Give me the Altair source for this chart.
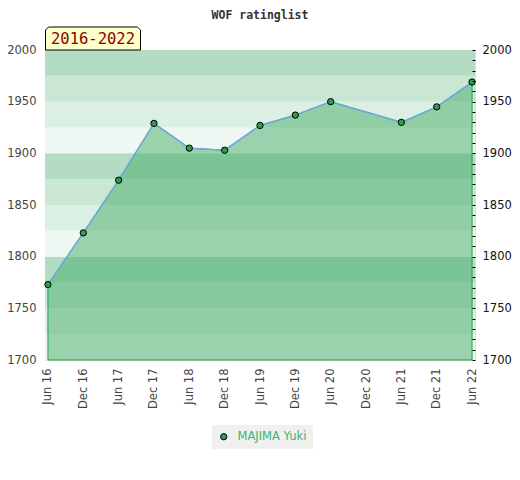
import altair as alt
import pandas as pd

# ---- data ----
title_text = "WOF ratinglist"
period_label = "2016-2022"
player = "MAJIMA Yuki"
months = [0, 6, 12, 18, 24, 30, 36, 42, 48, 60, 66, 72]
ratings = [1773, 1823, 1874, 1929, 1905, 1903, 1927, 1937, 1950, 1930, 1945, 1969]
tick_months = [0, 6, 12, 18, 24, 30, 36, 42, 48, 54, 60, 66, 72]
tick_labels = ["Jun 16", "Dec 16", "Jun 17", "Dec 17", "Jun 18", "Dec 18", "Jun 19",
               "Dec 19", "Jun 20", "Dec 20", "Jun 21", "Dec 21", "Jun 22"]
band_lo = list(range(1700, 2000, 25))
band_shades = ["#eef7f1", "#dcefe3", "#c9e7d4", "#b3dcc2"] * 3
left_ticks = [1700, 1750, 1800, 1850, 1900, 1950, 2000]
right_ticks = list(range(1700, 2001, 10))

W, H = 430, 310

df = pd.DataFrame({"month": months, "rating": ratings, "player": [player] * len(months)})
bands = pd.DataFrame({"lo": band_lo, "hi": [b + 25 for b in band_lo], "shade": band_shades})
one = pd.DataFrame({"label": [period_label], "title": [title_text]})

yscale = alt.Scale(domain=[1700, 2000], nice=False, zero=False)
xscale = alt.Scale(domain=[-0.5, 72.5], nice=False, zero=False)

label_expr = "[" + ",".join(f"'{l}'" for l in tick_labels) + "][round(datum.value/6)]"

xaxis = alt.Axis(values=tick_months, labelExpr=label_expr, labelAngle=270, labelAlign="right",
                 labelBaseline="middle", ticks=False, domain=False, grid=False, labelPadding=8,
                 labelColor="#444", labelFontSize=11.5, labelFont="DejaVu Sans", labelFlush=False,
                 labelOverlap=False, title=None)
left_axis = alt.Axis(values=left_ticks, format="d", ticks=False, domain=False, grid=False,
                     labelColor="#444", labelFontSize=11.5, labelFont="DejaVu Sans", labelPadding=9,
                     labelFlush=False, labelOverlap=False, title=None)
right_axis = alt.Axis(orient="right", values=right_ticks,
                      labelExpr="datum.value % 50 == 0 ? format(datum.value, 'd') : ''",
                      tickSize=3, tickColor="black", tickWidth=1, domain=False, grid=False,
                      offset=-3, labelPadding=7, labelColor="#111", labelFontSize=11.5,
                      labelFont="DejaVu Sans", labelFlush=False, labelOverlap=False, title=None,
                      zindex=1)

band_layer = alt.Chart(bands).mark_rect().encode(
    x=alt.value(0), x2=alt.value(W),
    y=alt.Y("lo:Q", scale=yscale, axis=left_axis),
    y2="hi:Q",
    color=alt.Color("shade:N", scale=None),
)

base = alt.Chart(df).encode(x=alt.X("month:Q", scale=xscale, axis=xaxis))

area = base.mark_area(fill="#3eaa64", fillOpacity=0.48, stroke="#22a045", strokeWidth=1).encode(
    y=alt.Y("rating:Q", scale=yscale, axis=None), y2=alt.datum(1700))

line = base.mark_line(color="#6fa8dc", strokeWidth=1.5).encode(
    y=alt.Y("rating:Q", scale=yscale, axis=None))

points = base.mark_point(filled=True, size=40, stroke="black", strokeWidth=1, opacity=1).encode(
    y=alt.Y("rating:Q", scale=yscale, axis=None),
    color=alt.Color("player:N", scale=alt.Scale(range=["#2e9e4e"]),
                    legend=alt.Legend(title=None, orient="none", legendX=167, legendY=375,
                                      fillColor="#f0f0f0", padding=6, labelColor="#3cb371",
                                      labelFontSize=11.5, labelFont="DejaVu Sans",
                                      symbolStrokeColor="black", symbolStrokeWidth=1,
                                      symbolSize=40, symbolType="circle", labelOffset=8)),
)

right_layer = base.mark_point(opacity=0).encode(y=alt.Y("rating:Q", scale=yscale, axis=right_axis))

tab_path = "M-1,0.2421 L-1,-0.1789 L-0.9368,-0.2421 L0.9368,-0.2421 L1,-0.1789 L1,0.2421 Z"
box = alt.Chart(one).mark_point(shape=tab_path, size=9025, filled=True, fill="#ffffcc",
                                 stroke="black", strokeWidth=1, opacity=1).encode(
    x=alt.value(48), y=alt.value(-11.5))
label = alt.Chart(one).mark_text(font="DejaVu Sans Mono", fontSize=15.5, color="#8b0000",
                                 align="center", baseline="middle").encode(
    x=alt.value(48), y=alt.value(-11), text="label:N")
title = alt.Chart(one).mark_text(font="DejaVu Sans Mono", fontSize=11.5, fontWeight="bold",
                                 color="#333", align="center", baseline="alphabetic").encode(
    x=alt.value(W / 2), y=alt.value(-31.5), text="title:N")

chart = alt.layer(band_layer, area, line, points, right_layer, box, label, title).resolve_axis(
    y="independent"
).properties(
    width=W, height=H,
    autosize=alt.AutoSizeParams(type="none"),
    padding={"left": 37, "top": 42, "right": 37, "bottom": 100},
).configure_view(stroke="#ddd", strokeWidth=1)

chart.save("out.html", embed_options={"renderer": "svg", "actions": False})
